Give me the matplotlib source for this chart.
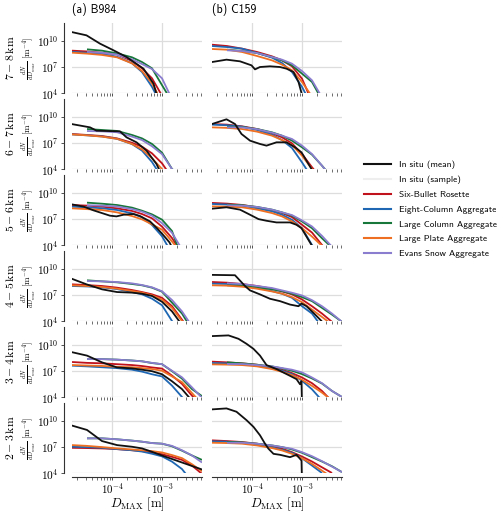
import numpy as np
import matplotlib
matplotlib.use("Agg")
import matplotlib.pyplot as plt
from matplotlib.lines import Line2D
from matplotlib.ticker import LogLocator, NullFormatter, FixedLocator, FixedFormatter
import matplotlib.transforms as mtrans

plt.rcParams['mathtext.fontset'] = 'cm'

N = np.nan

# ---------------- data (log10 values) ----------------
GRID_LOGD = [-4.8, -4.5, -4.2, -3.9, -3.6, -3.4, -3.2, -3.0, -2.8, -2.6, -2.4, -2.2]

MODEL_NAMES = ["Six-Bullet Rosette", "Eight-Column Aggregate", "Large Column Aggregate",
               "Large Plate Aggregate", "Evans Snow Aggregate"]
MODEL_COLORS = ["#c0121c", "#1f67b3", "#17763a", "#ee6f22", "#8a7dcf"]
ROW_LABELS = [r"$7-8\,\mathrm{km}$", r"$6-7\,\mathrm{km}$", r"$5-6\,\mathrm{km}$",
              r"$4-5\,\mathrm{km}$", r"$3-4\,\mathrm{km}$", r"$2-3\,\mathrm{km}$"]
COL_TITLES = ["(a) B984", "(b) C159"]

# ---- B984 ----
B984_78_MEAN_LOGD = [-4.81, -4.51, -4.24, -3.97, -3.71, -3.37, -3.17, -3.09]
B984_78_MEAN = [10.97, 10.59, 9.64, 8.88, 8.11, 6.78, 5.07, 3.5]
B984_78_MODELS = [
    [8.84, 8.75, 8.6, 8.42, 7.66, 6.82, 5.68, 3.7, N, N, N, N],
    [8.7, 8.6, 8.45, 8.15, 7.4, 6.4, 4.7, 2.5, N, N, N, N],
    [N, 8.99, 8.84, 8.53, 8.08, 7.54, 6.82, 4.9, 3.0, N, N, N],
    [8.61, 8.5, 8.35, 8.08, 7.39, 6.51, 5.1, 3.0, N, N, N, N],
    [N, 8.7, 8.6, 8.4, 7.85, 7.31, 6.74, 5.68, 3.3, N, N, N],
]

B984_67_MEAN_LOGD = [-4.81, -4.44, -4.31, -3.84, -3.71, -3.51, -3.31, -3.11, -3.02]
B984_67_MEAN = [9.14, 8.76, 8.38, 8.3, 7.62, 7.05, 6.1, 4.57, 3.5]
B984_67_MODELS = [
    [8.0, 7.89, 7.77, 7.5, 7.0, 6.55, 5.79, 4.65, 3.0, N, N, N],
    [7.95, 7.85, 7.72, 7.45, 6.85, 6.1, 4.8, 3.0, N, N, N, N],
    [N, 8.57, 8.46, 8.35, 7.89, 7.5, 6.86, 5.87, 4.0, 3.0, N, N],
    [7.95, 7.85, 7.7, 7.45, 6.86, 6.25, 5.22, 4.0, 3.0, N, N, N],
    [N, 8.34, 8.3, 8.2, 7.7, 7.31, 6.6, 5.7, 4.0, 3.0, N, N],
]

B984_56_MEAN_LOGD = [-4.81, -4.57, -4.37, -4.04, -3.91, -3.77, -3.57, -3.44, -3.24, -3.11, -3.0, -2.85, -2.78]
B984_56_MEAN = [8.65, 8.39, 7.96, 7.35, 7.27, 7.46, 7.54, 7.31, 6.7, 5.97, 5.3, 4.3, 3.5]
B984_56_MODELS = [
    [8.57, 8.5, 8.38, 8.19, 7.89, 7.54, 7.05, 6.1, 4.8, 3.0, N, N],
    [8.38, 8.3, 8.2, 8.0, 7.62, 7.16, 6.29, 5.0, 3.0, N, N, N],
    [N, 8.84, 8.72, 8.57, 8.27, 7.92, 7.5, 6.9, 5.6, 2.4, N, N],
    [8.19, 8.1, 8.0, 7.73, 7.31, 6.93, 6.36, 5.75, 4.4, 3.0, N, N],
    [N, 8.55, 8.5, 8.4, 8.11, 7.81, 7.35, 6.5, 5.4, 3.5, N, N],
]

B984_45_MEAN_LOGD = [-4.81, -4.51, -4.2, -3.9, -3.6, -3.4, -3.2, -3.0, -2.8, -2.62]
B984_45_MEAN = [8.84, 8.19, 7.62, 7.31, 7.24, 7.12, 6.86, 6.2, 5.1, 3.7]
B984_45_MODELS = [
    [8.19, 8.1, 8.0, 7.81, 7.54, 7.31, 7.05, 6.65, 5.7, 4.15, 2.5, N],
    [8.0, 7.95, 7.85, 7.65, 7.31, 7.05, 6.55, 5.8, 4.0, 2.5, N, N],
    [N, 8.65, 8.53, 8.42, 8.23, 8.08, 7.81, 7.35, 6.1, 4.85, 3.0, N],
    [8.08, 8.0, 7.89, 7.7, 7.43, 7.24, 6.93, 6.45, 5.5, 4.0, 2.5, N],
    [N, 8.57, 8.53, 8.45, 8.3, 8.11, 7.85, 7.4, 6.4, 5.1, 3.4, N],
]

B984_34_MEAN_LOGD = [-4.8, -4.5, -4.2, -3.9, -3.6, -3.4, -3.2, -3.0, -2.8, -2.6, -2.42]
B984_34_MEAN = [9.12, 8.73, 7.96, 7.38, 7.27, 7.12, 6.95, 6.6, 5.8, 4.9, 3.7]
B984_34_MODELS = [
    [8.0, 7.9, 7.85, 7.75, 7.65, 7.54, 7.38, 7.25, 6.45, 5.5, 4.15, 3.0],
    [7.58, 7.5, 7.4, 7.3, 7.12, 6.9, 6.6, 6.35, 5.3, 4.0, 2.5, N],
    [N, 8.35, 8.33, 8.27, 8.17, 8.08, 7.88, 7.75, 6.95, 6.1, 4.9, 4.1],
    [7.65, 7.6, 7.55, 7.45, 7.4, 7.3, 7.2, 7.0, 6.35, 5.7, 4.45, 3.2],
    [N, 8.35, 8.33, 8.27, 8.17, 8.08, 7.9, 7.75, 7.0, 6.25, 5.1, 3.9],
]

B984_23_MEAN_LOGD = [-4.8, -4.5, -4.2, -3.9, -3.6, -3.4, -3.2, -3.0, -2.8, -2.6, -2.4, -2.2]
B984_23_MEAN = [9.42, 8.92, 7.65, 7.19, 7.0, 6.81, 6.42, 6.0, 5.6, 5.2, 4.8, 4.4]
B984_23_MODELS = [
    [6.88, 6.85, 6.81, 6.73, 6.6, 6.5, 6.35, 6.15, 5.85, 5.5, 4.85, 3.9],
    [7.0, 6.95, 6.88, 6.73, 6.6, 6.45, 6.2, 5.9, 5.3, 4.45, 3.0, N],
    [N, 7.96, 7.96, 7.85, 7.7, 7.58, 7.42, 7.35, 7.05, 6.55, 6.0, 5.5],
    [7.19, 7.1, 6.96, 6.81, 6.69, 6.6, 6.5, 6.35, 6.05, 5.7, 5.0, 4.2],
    [N, 7.96, 7.96, 7.85, 7.7, 7.58, 7.42, 7.35, 7.1, 6.6, 6.0, 5.2],
]

# ---- C159 ----
C159_78_MEAN_LOGD = [-4.8, -4.51, -4.24, -4.01, -3.94, -3.84, -3.64, -3.44, -3.31, -3.17, -3.07, -3.01, -2.99]
C159_78_MEAN = [7.54, 7.81, 7.62, 7.16, 6.7, 6.97, 7.05, 6.97, 6.78, 6.4, 5.26, 4.0, 3.5]
C159_78_MODELS = [
    [9.52, 9.37, 9.07, 8.69, 8.19, 7.73, 7.05, 5.64, 3.0, N, N, N],
    [9.37, 9.25, 9.07, 8.57, 8.04, 7.43, 6.4, 4.7, 2.5, N, N, N],
    [N, 8.95, 8.8, 8.57, 8.11, 7.73, 7.16, 6.21, 5.26, 3.2, N, N],
    [9.03, 8.95, 8.69, 8.23, 7.73, 7.24, 6.6, 5.26, 3.6, N, N, N],
    [N, 8.88, 8.8, 8.57, 8.11, 7.81, 7.35, 6.51, 5.45, 3.5, N, N],
]

C159_67_MEAN_LOGD = [-4.8, -4.51, -4.34, -4.21, -4.04, -3.84, -3.71, -3.51, -3.31, -3.14, -3.01, -2.81, -2.77]
C159_67_MEAN = [9.14, 9.68, 9.14, 8.0, 7.24, 6.86, 6.67, 7.05, 7.05, 6.48, 5.9, 4.0, 3.6]
C159_67_MODELS = [
    [9.14, 9.07, 8.88, 8.57, 8.08, 7.62, 6.93, 5.71, 4.2, 2.8, N, N],
    [9.07, 9.0, 8.85, 8.46, 7.92, 7.31, 6.4, 4.76, 3.0, N, N, N],
    [N, 8.84, 8.8, 8.57, 8.19, 7.81, 7.24, 6.48, 5.64, 4.38, 3.0, N],
    [8.76, 8.7, 8.57, 8.27, 7.81, 7.31, 6.74, 5.52, 4.0, 3.0, N, N],
    [N, 8.76, 8.76, 8.55, 8.15, 7.81, 7.43, 6.67, 5.71, 4.38, 3.0, N],
]

C159_56_MEAN_LOGD = [-4.8, -4.51, -4.24, -4.04, -3.87, -3.71, -3.51, -3.24, -3.11, -3.01, -2.81, -2.79]
C159_56_MEAN = [8.15, 8.31, 8.04, 7.46, 6.96, 6.77, 6.58, 6.58, 6.31, 5.92, 4.0, 3.7]
C159_56_MODELS = [
    [8.81, 8.73, 8.58, 8.31, 7.96, 7.65, 7.19, 6.31, 5.42, 4.0, 2.5, N],
    [8.69, 8.62, 8.5, 8.19, 7.85, 7.46, 6.88, 5.92, 4.0, 2.5, N, N],
    [N, 8.62, 8.55, 8.35, 8.04, 7.73, 7.35, 6.69, 5.92, 4.77, 3.7, N],
    [8.42, 8.38, 8.31, 8.04, 7.65, 7.27, 6.69, 5.92, 4.96, 3.9, N, N],
    [N, 8.54, 8.5, 8.35, 8.04, 7.73, 7.42, 6.81, 6.12, 5.04, 3.8, N],
]

C159_45_MEAN_LOGD = [-4.8, -4.34, -4.14, -4.04, -3.84, -3.64, -3.44, -3.24, -3.07, -3.01, -2.91, -2.77, -2.61, -2.59]
C159_45_MEAN = [9.27, 9.23, 8.0, 7.5, 7.04, 6.54, 6.27, 5.88, 5.69, 6.0, 5.69, 4.92, 4.0, 3.77]
C159_45_MODELS = [
    [8.46, 8.38, 8.23, 8.0, 7.69, 7.38, 7.04, 6.46, 5.69, 4.85, 3.9, N],
    [8.27, 8.23, 8.08, 7.81, 7.42, 7.12, 6.65, 5.69, 4.85, 3.3, N, N],
    [N, 8.08, 8.04, 7.88, 7.62, 7.42, 7.12, 6.73, 6.27, 5.5, 4.73, 3.9],
    [8.08, 8.04, 7.92, 7.69, 7.38, 7.12, 6.73, 6.15, 5.31, 4.46, 3.6, N],
    [N, 8.31, 8.23, 8.0, 7.77, 7.5, 7.23, 6.92, 6.38, 5.69, 4.85, 3.9],
]

C159_34_MEAN_LOGD = [-4.8, -4.47, -4.27, -4.11, -3.97, -3.84, -3.71, -3.51, -3.24, -3.11, -3.04, -3.01, -3.0]
C159_34_MEAN = [10.96, 11.04, 10.65, 10.08, 9.5, 8.73, 7.65, 7.19, 6.42, 6.04, 5.46, 5.8, 3.0]
C159_34_MODELS = [
    [8.04, 7.96, 7.85, 7.69, 7.38, 7.12, 6.73, 6.23, 5.58, 4.69, 3.5, N],
    [7.88, 7.85, 7.77, 7.58, 7.27, 7.0, 6.62, 5.85, 4.88, 3.6, N, N],
    [N, 7.96, 7.85, 7.69, 7.5, 7.27, 7.0, 6.62, 6.12, 5.54, 4.69, 4.0],
    [7.73, 7.7, 7.65, 7.5, 7.19, 6.88, 6.5, 5.96, 5.27, 4.5, 3.6, N],
    [N, 7.77, 7.77, 7.65, 7.5, 7.31, 7.12, 6.81, 6.23, 5.58, 4.69, 4.0],
]

C159_23_MEAN_LOGD = [-4.8, -4.51, -4.31, -4.11, -3.97, -3.84, -3.74, -3.67, -3.57, -3.44, -3.24, -3.11, -3.04, -3.01, -3.0]
C159_23_MEAN = [11.27, 11.38, 11.0, 10.04, 9.27, 8.31, 7.35, 6.77, 6.19, 6.08, 5.81, 6.08, 5.62, 5.42, 3.0]
C159_23_MODELS = [
    [7.73, 7.65, 7.54, 7.35, 7.08, 6.77, 6.38, 5.88, 5.31, 4.65, 4.0, N],
    [7.62, 7.58, 7.46, 7.23, 6.92, 6.65, 6.31, 5.69, 4.85, 4.0, N, N],
    [N, 7.54, 7.5, 7.35, 7.15, 6.96, 6.69, 6.31, 5.81, 5.31, 4.77, 4.1],
    [7.46, 7.42, 7.35, 7.15, 6.85, 6.58, 6.19, 5.69, 5.04, 4.27, 3.5, N],
    [N, 7.46, 7.46, 7.35, 7.15, 6.96, 6.77, 6.38, 5.92, 5.35, 4.73, 4.1],
]

PANELS = [
    [(B984_78_MEAN_LOGD, B984_78_MEAN, B984_78_MODELS), (C159_78_MEAN_LOGD, C159_78_MEAN, C159_78_MODELS)],
    [(B984_67_MEAN_LOGD, B984_67_MEAN, B984_67_MODELS), (C159_67_MEAN_LOGD, C159_67_MEAN, C159_67_MODELS)],
    [(B984_56_MEAN_LOGD, B984_56_MEAN, B984_56_MODELS), (C159_56_MEAN_LOGD, C159_56_MEAN, C159_56_MODELS)],
    [(B984_45_MEAN_LOGD, B984_45_MEAN, B984_45_MODELS), (C159_45_MEAN_LOGD, C159_45_MEAN, C159_45_MODELS)],
    [(B984_34_MEAN_LOGD, B984_34_MEAN, B984_34_MODELS), (C159_34_MEAN_LOGD, C159_34_MEAN, C159_34_MODELS)],
    [(B984_23_MEAN_LOGD, B984_23_MEAN, B984_23_MODELS), (C159_23_MEAN_LOGD, C159_23_MEAN, C159_23_MODELS)],
]

# ---------------- figure ----------------
W, H = 500, 512
fig = plt.figure(figsize=(W / 100, H / 100), dpi=100)

col_left = [72, 212]
ax_w = 130
ax_h = 70
row_top0 = 23
row_pitch = 76
XLIM = (10 ** -4.8, 10 ** -2.2)
YLIM = (1e4, 1e12)
SPINE_C = "#333333"
GRID_C = "#dddddd"
sans = "cmss10"

grid_d = 10.0 ** np.array(GRID_LOGD)

for r in range(6):
    for c in range(2):
        top = row_top0 + r * row_pitch
        ax = fig.add_axes([col_left[c] / W, 1 - (top + ax_h) / H, ax_w / W, ax_h / H])
        mean_logd, mean_vals, models = PANELS[r][c]
        for k, vals in enumerate(models):
            ax.plot(grid_d, 10.0 ** np.array(vals, dtype=float), color=MODEL_COLORS[k], lw=1.3,
                    solid_capstyle="butt", zorder=3 + k * 0.1)
        ax.plot(10.0 ** np.array(mean_logd), 10.0 ** np.array(mean_vals), color="#111111", lw=1.3,
                zorder=4)
        ax.set_xscale("log")
        ax.set_yscale("log")
        ax.set_xlim(*XLIM)
        ax.set_ylim(*YLIM)
        ax.set_facecolor("white")

        ax.xaxis.set_major_locator(FixedLocator([1e-4, 1e-3]))
        ax.xaxis.set_minor_locator(LogLocator(base=10, subs=np.arange(2, 10), numticks=20))
        ax.xaxis.set_minor_formatter(NullFormatter())
        ax.yaxis.set_major_locator(FixedLocator([1e4, 1e7, 1e10]))
        ax.yaxis.set_minor_locator(FixedLocator([]))
        ax.grid(True, which="major", color=GRID_C, lw=0.9, zorder=0)
        ax.set_axisbelow(True)

        for s in ["top", "right"]:
            ax.spines[s].set_visible(False)
        ax.tick_params(which="major", direction="out", length=2.5, width=0.6, color=SPINE_C,
                       labelsize=8.2, pad=1.2)
        ax.tick_params(which="minor", direction="out", length=1.8, width=0.5, color=SPINE_C)

        if c == 0:
            ax.spines["left"].set_position(("outward", 6))
            ax.spines["left"].set_color(SPINE_C)
            ax.spines["left"].set_linewidth(0.8)
            ax.yaxis.set_major_formatter(FixedFormatter([r"$10^{4}$", r"$10^{7}$", r"$10^{10}$"]))
            ax.set_ylabel(r"$\frac{dN}{dD_{max}}\ [\mathrm{m}^{-4}]$", fontsize=6.4)
            ax.yaxis.label.set_va("center")
            ax.yaxis.set_label_coords(-0.33, 0.5)
            tr = mtrans.blended_transform_factory(fig.transFigure, ax.transAxes)
            ax.text(11 / W, 0.5, ROW_LABELS[r], transform=tr, rotation=90, ha="center",
                    va="center", fontsize=8.5)
        else:
            ax.spines["left"].set_visible(False)
            ax.tick_params(axis="y", which="both", left=False, labelleft=False)

        if r == 5:
            ax.spines["bottom"].set_position(("outward", 3))
            ax.spines["bottom"].set_color(SPINE_C)
            ax.spines["bottom"].set_linewidth(0.8)
            ax.xaxis.set_major_formatter(FixedFormatter([r"$10^{-4}$", r"$10^{-3}$"]))
            ax.tick_params(axis="x", which="major", pad=0.5, labelsize=7.8)
            ax.set_xlabel(r"$D_{\mathrm{MAX}}\ [\mathrm{m}]$", fontsize=9.2)
            ax.xaxis.label.set_va("center")
            ax.xaxis.set_label_coords(0.5, -31.5 / ax_h)
        else:
            ax.spines["bottom"].set_visible(False)
            ax.tick_params(axis="x", which="both", labelbottom=False)

        if r == 0:
            ax.set_title(COL_TITLES[c], loc="left", fontsize=8.5, family=sans, pad=7)

handles = [Line2D([], [], color="#111111", lw=1.5), Line2D([], [], color="#eeeeee", lw=1.5)]
labels = ["In situ (mean)", "In situ (sample)"]
for k, name in enumerate(MODEL_NAMES):
    handles.append(Line2D([], [], color=MODEL_COLORS[k], lw=1.5))
    labels.append(name)
fig.legend(handles, labels, loc="upper left", bbox_to_anchor=(360 / W, 1 - 157 / H),
           frameon=False, prop={"family": sans, "size": 6.7}, handlelength=2.9,
           labelspacing=0.68, handletextpad=0.9, borderaxespad=0)

fig.savefig("out.png", dpi=100, facecolor="white")
